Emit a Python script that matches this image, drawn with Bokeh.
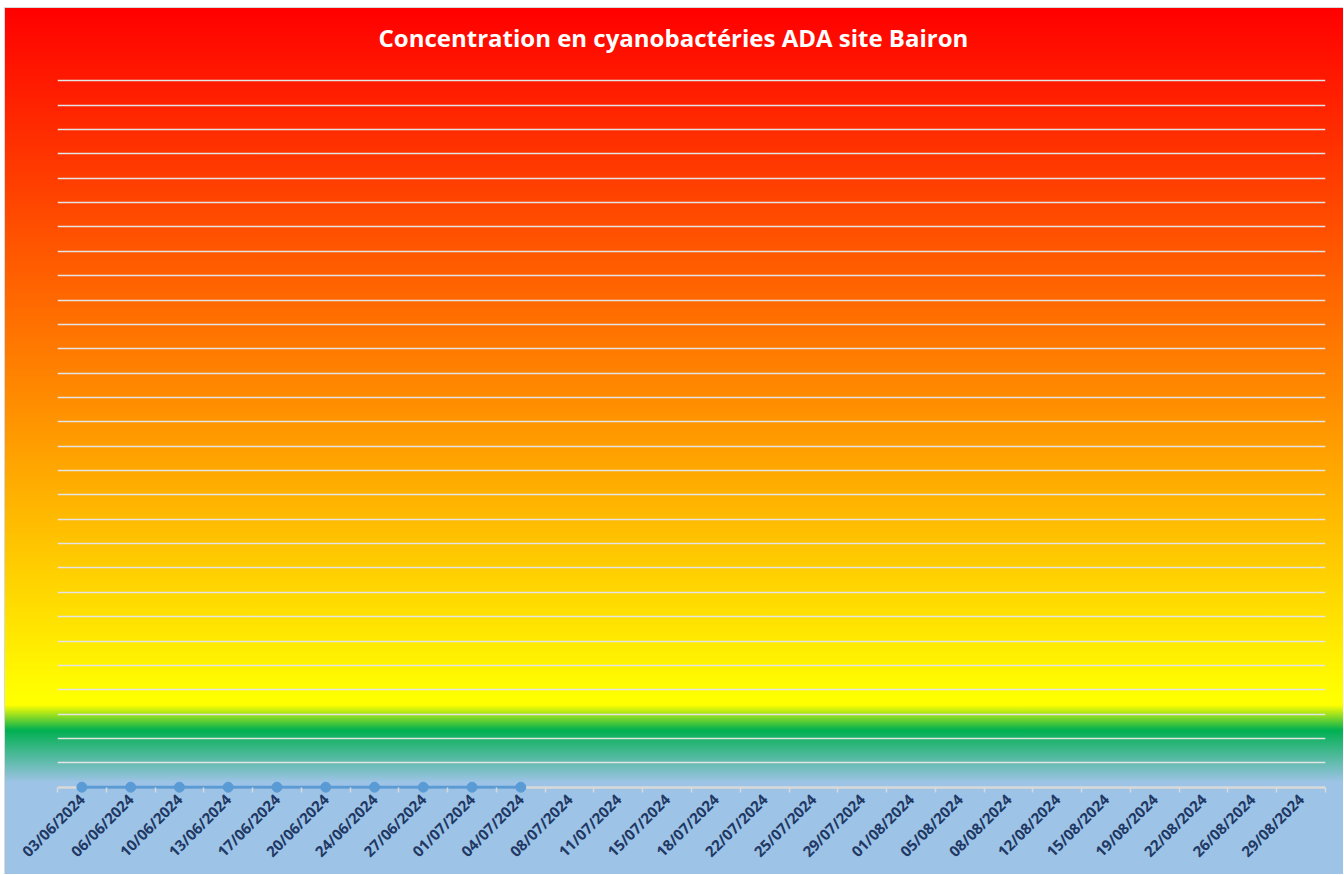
import math
import numpy as np
from bokeh.plotting import figure
from bokeh.models import FixedTicker, Range1d, ColumnDataSource, Grid
from bokeh.embed import file_html
from bokeh.resources import INLINE

# ---- data ----
dates = ["03/06/2024", "06/06/2024", "10/06/2024", "13/06/2024", "17/06/2024",
         "20/06/2024", "24/06/2024", "27/06/2024", "01/07/2024", "04/07/2024",
         "08/07/2024", "11/07/2024", "15/07/2024", "18/07/2024", "22/07/2024",
         "25/07/2024", "29/07/2024", "01/08/2024", "05/08/2024", "08/08/2024",
         "12/08/2024", "15/08/2024", "19/08/2024", "22/08/2024", "26/08/2024",
         "29/08/2024"]
concentration = [0, 0, 0, 0, 0, 0, 0, 0, 0, 0,
                 None, None, None, None, None, None, None, None, None, None,
                 None, None, None, None, None, None]
y_max = 30
title_text = "Concentration en cyanobactéries ADA site Bairon"

# ---- derived ----
n = len(dates)
xpos = [i + 0.5 for i in range(n)]
yvals = [np.nan if v is None else v for v in concentration]
src = ColumnDataSource(dict(x=xpos, y=yvals))

W, H = 1339, 867
p = figure(width=W, height=H, output_backend="svg", toolbar_location=None,
           x_range=Range1d(0, n), y_range=Range1d(-0.3, y_max),
           min_border_left=52, min_border_right=19, min_border_top=48,
           min_border_bottom=81)

p.border_fill_color = None
p.background_fill_color = None
p.outline_line_color = None
p.styles = {
    "background": "linear-gradient(to bottom, #FF0000 0px, #FF8C00 392px, "
                  "#FFFF00 687px, #FFFF00 697px, #00B050 722px, #9DC3E6 774px, #9DC3E6 100%)",
    "border-left": "1px solid #D9D9D9",
    "border-top": "1px solid #D9D9D9",
    "margin-left": "4px",
    "margin-top": "7px",
}

# title
p.title.text = title_text
p.title.align = "left"
p.title.offset = 321
p.title.text_color = "white"
p.title.text_font = "Open Sans"
p.title.text_font_style = "bold"
p.title.text_font_size = "24px"
p.title.standoff = 6

# axes
p.yaxis.visible = False
p.ygrid.ticker = FixedTicker(ticks=list(range(1, y_max + 1)))
p.ygrid.grid_line_color = "#E4E4E4"
p.ygrid.grid_line_width = 1.3
p.xgrid.visible = False

# baseline (value 0) drawn as a gray grid line
base = Grid(dimension=1, ticker=FixedTicker(ticks=[0]), grid_line_color="#D9D9D9",
            grid_line_width=2.5)
p.add_layout(base, "center")

xa = p.xaxis[0]
xa.ticker = FixedTicker(ticks=xpos, minor_ticks=list(range(0, n + 1)))
xa.major_label_overrides = {x: d for x, d in zip(xpos, dates)}
xa.major_label_orientation = math.pi / 4
xa.major_label_text_font = "Open Sans"
xa.major_label_text_font_style = "bold"
xa.major_label_text_font_size = "15px"
xa.major_label_text_color = "#1F3864"
xa.major_label_standoff = 2
xa.major_tick_line_color = None
xa.major_tick_in = 0
xa.major_tick_out = 0
xa.minor_tick_line_color = "#D9D9D9"
xa.minor_tick_line_width = 1.5
xa.minor_tick_in = 7
xa.minor_tick_out = -2
xa.axis_line_color = None

# series
p.line("x", "y", source=src, line_color="#5B9BD5", line_width=3)
p.scatter("x", "y", source=src, size=10, fill_color="#5B9BD5", line_color="#5B9BD5")

open("out.html", "w").write(file_html(p, INLINE))
